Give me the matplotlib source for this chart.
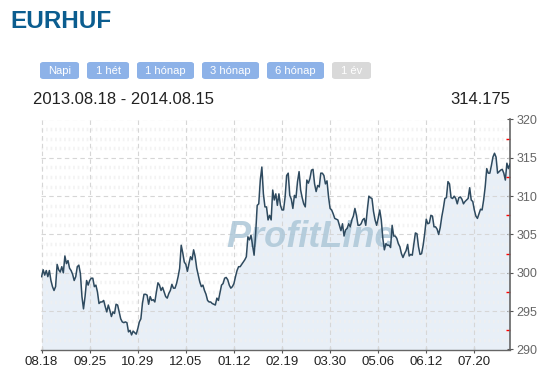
import matplotlib
matplotlib.use("Agg")
import matplotlib.pyplot as plt
from matplotlib.patches import FancyBboxPatch
import numpy as np

title = "EURHUF"
date_range = "2013.08.18 - 2014.08.15"
last_value = "314.175"
buttons = ["Napi", "1 hét", "1 hónap", "3 hónap", "6 hónap", "1 év"]
tick_labels = ["08.18", "09.25", "10.29", "12.05", "01.12", "02.19",
               "03.30", "05.06", "06.12", "07.20"]
tick_idx = [0, 31, 62, 93, 124, 155, 186, 217, 248, 279]
y_ticks = [290, 295, 300, 305, 310, 315, 320]

rate = [
    299.5, 300.4, 299.7, 300.3, 299.5, 300.3, 299.0, 298.2, 297.7, 298.2,
    301.1, 300.4, 300.1, 300.8, 300.0, 302.2, 301.2, 301.6, 300.6, 300.3,
    299.8, 299.0, 299.5, 300.8, 301.0, 299.9, 296.9, 295.3, 296.9, 299.0,
    298.4, 299.0, 299.3, 299.3, 298.2, 298.4, 297.5, 296.0, 296.2, 296.2,
    296.4, 295.6, 294.9, 295.8, 295.1, 294.3, 294.9, 294.7, 295.9, 295.8,
    294.9, 294.0, 293.6, 293.5, 293.6, 293.5, 292.3, 292.5, 291.9, 292.4,
    292.2, 292.0, 292.7, 293.6, 294.0, 296.0, 297.2, 297.2, 297.1, 295.9,
    296.9, 296.4, 296.5, 296.2, 297.5, 298.7, 298.4, 297.7, 298.1, 297.5,
    296.9, 296.7, 297.3, 297.7, 298.5, 298.0, 298.0, 298.6, 299.5, 300.6,
    303.6, 302.6, 301.4, 301.1, 300.2, 301.2, 302.1, 301.7, 303.0, 302.1,
    300.6, 299.7, 298.8, 298.2, 298.4, 297.7, 297.2, 296.4, 296.2, 296.2,
    296.0, 295.9, 295.8, 296.7, 296.4, 297.4, 298.4, 298.6, 299.3, 299.4,
    299.1, 298.4, 298.0, 298.2, 298.6, 299.5, 300.3, 300.8, 300.8, 301.1,
    301.4, 301.7, 302.1, 304.7, 304.3, 304.9, 303.6, 302.3, 305.1, 308.8,
    309.0, 312.1, 313.8, 310.3, 308.6, 308.6, 306.9, 307.5, 306.9, 310.8,
    309.5, 310.3, 308.8, 310.3, 308.8, 308.2, 308.2, 309.9, 312.7, 313.0,
    310.1, 309.6, 308.4, 310.1, 309.8, 311.9, 313.2, 310.8, 309.8, 309.0,
    308.6, 312.1, 311.7, 312.3, 313.4, 313.5, 311.6, 310.6, 311.4, 311.2,
    313.0, 313.0, 312.7, 311.6, 312.0, 309.9, 308.4, 308.2, 307.7, 307.1,
    307.0, 306.9, 306.2, 305.5, 306.4, 304.8, 305.6, 305.8, 306.4, 306.0,
    306.9, 307.4, 308.4, 307.5, 306.2, 306.2, 306.4, 306.9, 307.1, 306.2,
    308.2, 310.0, 309.8, 309.7, 308.0, 306.9, 306.2, 307.1, 308.2, 306.9,
    304.5, 303.0, 303.8, 303.6, 303.6, 303.3, 306.2, 304.8, 304.8, 304.5,
    303.8, 303.4, 302.5, 302.0, 302.5, 302.9, 303.7, 302.2, 302.4, 302.3,
    303.8, 305.2, 305.1, 303.4, 302.4, 302.5, 303.6, 305.1, 307.0, 306.4,
    306.5, 307.5, 307.4, 306.0, 306.0, 305.7, 305.0, 305.9, 307.3, 308.4,
    309.7, 309.8, 311.9, 311.6, 309.8, 309.7, 310.0, 309.7, 309.0, 309.8,
    309.9, 309.6, 309.0, 309.3, 309.5, 309.7, 311.1, 309.5, 309.3, 308.2,
    307.4, 307.1, 307.7, 308.3, 308.2, 309.5, 311.2, 313.6, 313.0, 313.0,
    314.0, 315.1, 315.6, 315.1, 313.0, 313.2, 313.4, 313.5, 313.0, 312.1,
    314.3, 313.6, 314.2,
]

W, H = 554, 376
fig = plt.figure(figsize=(W / 100, H / 100), dpi=100)
fig.patch.set_facecolor("white")

def fx(px):
    return px / W

def fy(py):
    return 1 - py / H

# Header texts
fig.text(fx(10), fy(21), title, fontsize=17.5, fontweight="bold",
         family="Liberation Sans", color="#0b5d8f", va="center", ha="left")

btn_x = [(40, 79), (87, 129), (137, 194), (202, 259), (267, 324), (332, 371)]
for (x0, x1), lab in zip(btn_x, buttons):
    col = "#d9d9d9" if lab == "1 év" else "#8db2e8"
    p = FancyBboxPatch((fx(x0), fy(79)), fx(x1 - x0), (79 - 62) / H,
                       boxstyle="round,pad=0,rounding_size=0.006",
                       transform=fig.transFigure, facecolor=col,
                       edgecolor="none")
    fig.patches.append(p)
    fig.text(fx((x0 + x1) / 2), fy(70.5), lab, fontsize=8,
             family="Liberation Sans", color="white", ha="center", va="center")

fig.text(fx(33), fy(99), date_range, fontsize=12, family="Liberation Sans",
         color="#222222", ha="left", va="center")
fig.text(fx(510), fy(99), last_value, fontsize=12, family="Liberation Sans",
         color="#222222", ha="right", va="center")

# Plot area
ax = fig.add_axes([fx(41), fy(349.5), fx(510 - 41), (349.5 - 119.5) / H])
ax.set_facecolor("white")
x = np.arange(len(rate))
ax.set_xlim(-0.4, len(rate) - 1)
ax.set_ylim(290, 320)

ax.fill_between(x, rate, 290, color="#e8eff7", zorder=1, linewidth=0)

# faint dotted rows
for v in np.arange(291.25, 320, 1.25):
    if abs(v / 5 - round(v / 5)) > 1e-6:
        ax.axhline(v, color="#f0f0f0", lw=2.5, ls=(0, (0.5, 0.8)),
                   alpha=0.8, zorder=1.5)

# dashed grid
for v in y_ticks[1:-1] + [320]:
    ax.axhline(v, color="#d6d6d6", lw=0.8, ls=(0, (4, 3)), zorder=2)
for t in tick_idx:
    ax.axvline(t, color="#d6d6d6", lw=0.8, ls=(0, (4, 3)), zorder=2)

ax.text(0.575, 0.488, "ProfitLine", transform=ax.transAxes, fontsize=26,
        family="Liberation Sans", fontweight="bold", style="italic",
        color="#adc7d8", alpha=0.85, ha="center", va="center", zorder=3)

ax.plot(x, rate, color="#2e4a5f", lw=1.1, zorder=4)

ax.yaxis.tick_right()
ax.set_yticks(y_ticks)
ax.set_yticklabels([str(v) for v in y_ticks])
ax.set_yticks(np.arange(292.5, 320, 5), minor=True)
ax.tick_params(axis="y", which="major", direction="inout", length=5,
               color="#555555", labelsize=9, labelcolor="#666666", pad=2)
ax.tick_params(axis="y", which="minor", direction="in", length=3,
               color="red", width=1)
for lab in ax.get_yticklabels():
    lab.set_family("Liberation Sans")

ax.set_xticks(tick_idx)
ax.set_xticklabels(tick_labels)
ax.tick_params(axis="x", which="major", direction="inout", length=5,
               color="#555555", labelsize=9.5, labelcolor="#222222", pad=2)
for lab in ax.get_xticklabels():
    lab.set_family("Liberation Sans")

for s in ["left", "top"]:
    ax.spines[s].set_visible(False)
ax.spines["right"].set_color("#666666")
ax.spines["right"].set_linewidth(1.2)
ax.spines["bottom"].set_color("#666666")
ax.spines["bottom"].set_linewidth(1.0)

fig.savefig("out.png", dpi=100)
